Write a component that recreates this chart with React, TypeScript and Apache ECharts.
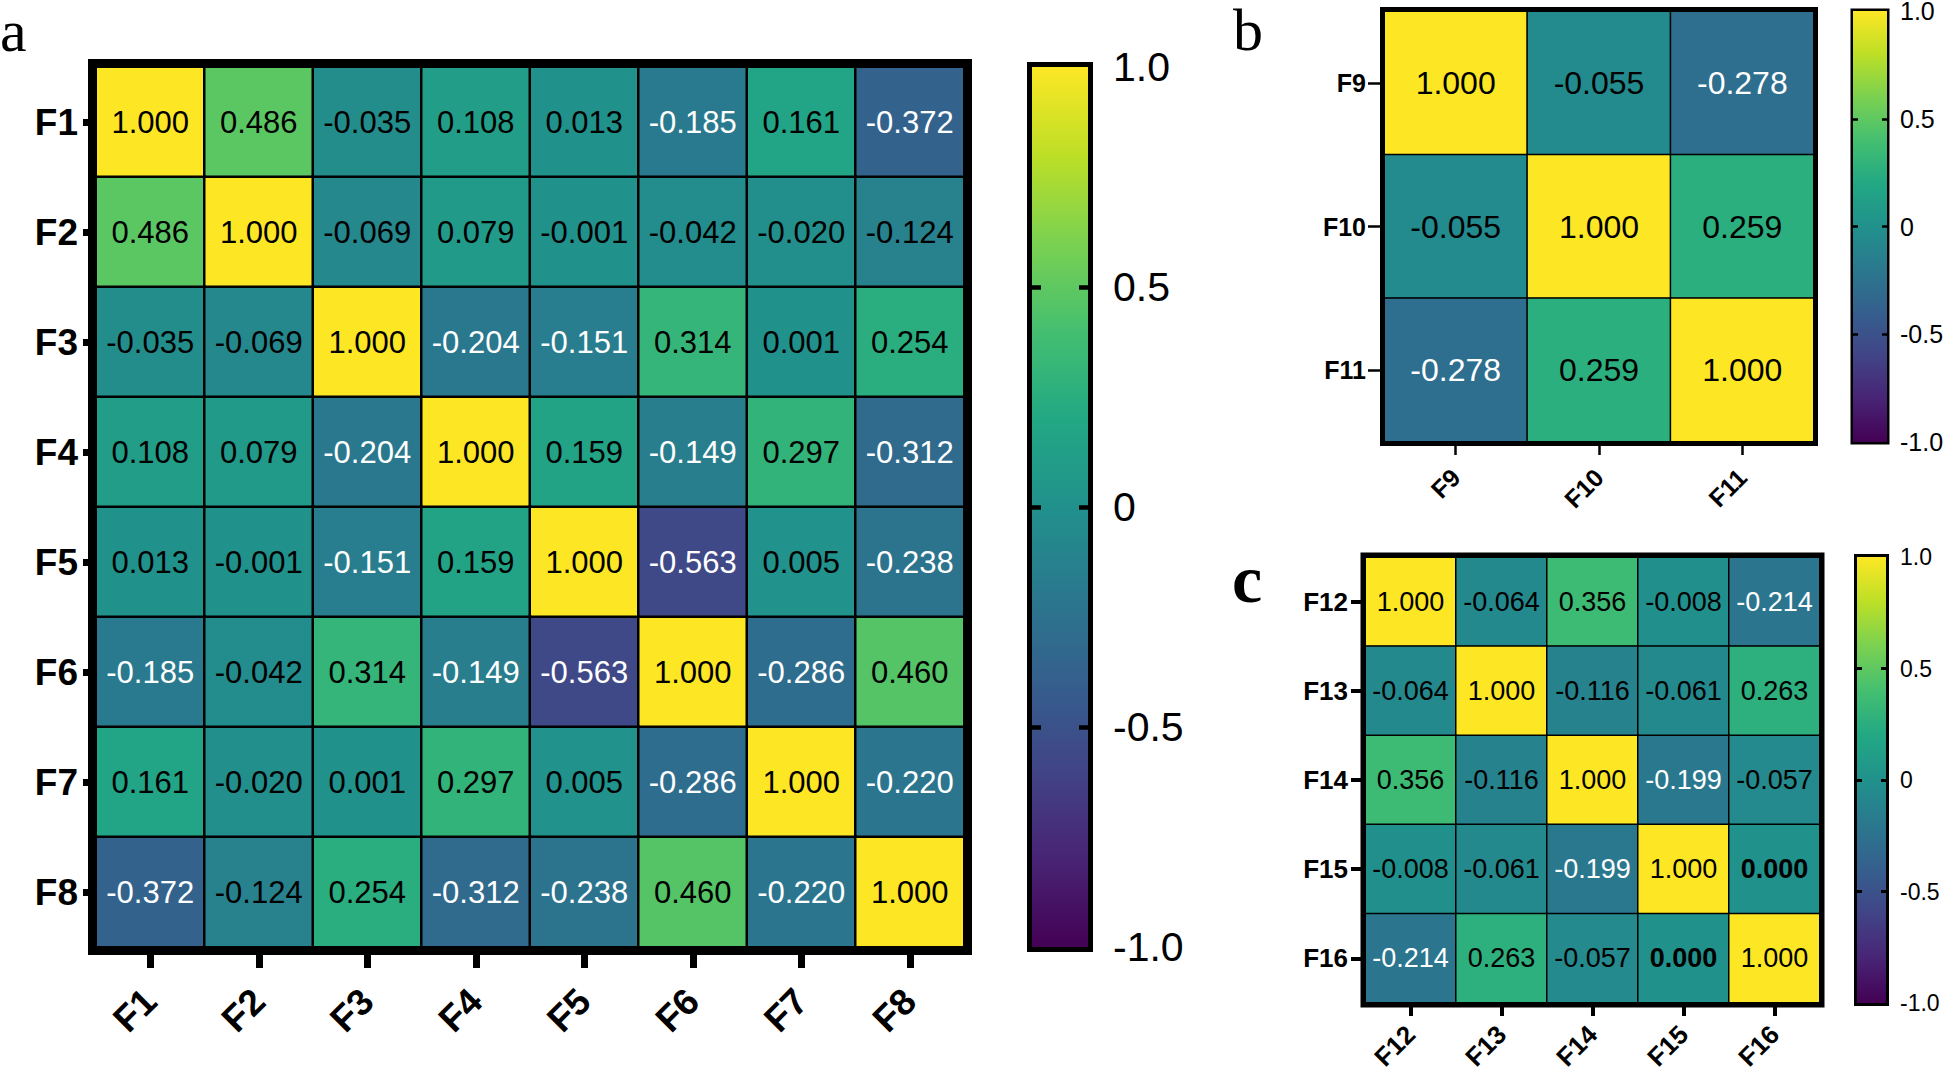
import React, { useEffect, useRef } from "react";
import * as echarts from "echarts";

// ---------- data ----------
const catsA = ["F1", "F2", "F3", "F4", "F5", "F6", "F7", "F8"];
const valuesA = [
  [1.0, 0.486, -0.035, 0.108, 0.013, -0.185, 0.161, -0.372],
  [0.486, 1.0, -0.069, 0.079, -0.001, -0.042, -0.02, -0.124],
  [-0.035, -0.069, 1.0, -0.204, -0.151, 0.314, 0.001, 0.254],
  [0.108, 0.079, -0.204, 1.0, 0.159, -0.149, 0.297, -0.312],
  [0.013, -0.001, -0.151, 0.159, 1.0, -0.563, 0.005, -0.238],
  [-0.185, -0.042, 0.314, -0.149, -0.563, 1.0, -0.286, 0.46],
  [0.161, -0.02, 0.001, 0.297, 0.005, -0.286, 1.0, -0.22],
  [-0.372, -0.124, 0.254, -0.312, -0.238, 0.46, -0.22, 1.0],
];
const catsB = ["F9", "F10", "F11"];
const valuesB = [
  [1.0, -0.055, -0.278],
  [-0.055, 1.0, 0.259],
  [-0.278, 0.259, 1.0],
];
const catsC = ["F12", "F13", "F14", "F15", "F16"];
const valuesC = [
  [1.0, -0.064, 0.356, -0.008, -0.214],
  [-0.064, 1.0, -0.116, -0.061, 0.263],
  [0.356, -0.116, 1.0, -0.199, -0.057],
  [-0.008, -0.061, -0.199, 1.0, 0.0],
  [-0.214, 0.263, -0.057, 0.0, 1.0],
];
const colorbarTicks = [-1, -0.5, 0, 0.5, 1];
const colorbarLabels = ["-1.0", "-0.5", "0", "0.5", "1.0"];
const innerTicks = [-0.5, 0, 0.5];
const viridis = [
  "#440154", "#482475", "#414487", "#355f8d", "#2a788e", "#21918c",
  "#22a884", "#44bf70", "#7ad151", "#bddf26", "#fde725",
];
const panelLetters = ["a", "b", "c"];

// ---------- layout / style ----------
const SANS = "'Liberation Sans', Arial, Helvetica, sans-serif";
const SERIF = "'Liberation Serif', 'Times New Roman', serif";

const panels = [
  {
    cats: catsA, values: valuesA,
    grid: { left: 96, top: 67, width: 868, height: 880 },
    frameW: 7, cellBorder: 2.5, cellFont: 31,
    axisFont: 37, yMargin: 18, xMargin: 48,
    yTick: { len: 13, w: 7 }, xTick: { len: 21, w: 7 },
    cb: { left: 1032, top: 67, width: 56, height: 880 },
    cbFrameW: 5, cbTick: { len: 9, w: 4.5 }, cbFont: 41, cbLineHeight: 44, cbMargin: 25,
    letter: { x: 0, y: 31, size: 60, lineHeight: 40, weight: "normal" },
  },
  {
    cats: catsB, values: valuesB,
    grid: { left: 1384, top: 11, width: 430, height: 431 },
    frameW: 3, cellBorder: 1.5, cellFont: 32,
    axisFont: 25, yMargin: 18, xMargin: 31,
    yTick: { len: 16, w: 2.5 }, xTick: { len: 13, w: 2.5 },
    cb: { left: 1853, top: 11, width: 34, height: 431 },
    cbFrameW: 2.5, cbTick: { len: 5, w: 2.5 }, cbFont: 25, cbLineHeight: 18, cbMargin: 13,
    letter: { x: 1233, y: 30, size: 60, lineHeight: 40, weight: "normal" },
  },
  {
    cats: catsC, values: valuesC,
    grid: { left: 1365, top: 557, width: 455, height: 446 },
    frameW: 3.5, cellBorder: 1.5, cellFont: 27,
    axisFont: 26, yMargin: 17, xMargin: 27,
    yTick: { len: 14, w: 4 }, xTick: { len: 13, w: 4 },
    cb: { left: 1857, top: 557, width: 29, height: 446 },
    cbFrameW: 3, cbTick: { len: 5, w: 3 }, cbFont: 23, cbLineHeight: 24, cbMargin: 14,
    letter: { x: 1232, y: 579, size: 68, lineHeight: 50, weight: "bold" },
  },
];

function buildOption() {
  const grid: any[] = [];
  const xAxis: any[] = [];
  const yAxis: any[] = [];
  const series: any[] = [];
  const visualMap: any[] = [];
  const elements: any[] = [];

  panels.forEach((p, i) => {
    const gHeat = grid.length;
    grid.push({ ...p.grid, containLabel: false, outerBoundsMode: "none" });
    const gCb = grid.length;
    grid.push({ ...p.cb, containLabel: false, outerBoundsMode: "none" });

    const xHeat = xAxis.length;
    xAxis.push({
      type: "category", gridIndex: gHeat, data: p.cats,
      axisLine: { show: false },
      axisTick: { show: true, alignWithLabel: true, length: p.xTick.len, lineStyle: { color: "#000", width: p.xTick.w } },
      axisLabel: {
        interval: 0, rotate: 45, margin: p.xMargin, color: "#000",
        fontFamily: SANS, fontWeight: "bold", fontSize: p.axisFont,
      },
      splitLine: { show: false },
    });
    xAxis.push({ type: "value", gridIndex: gCb, min: 0, max: 1, show: false });

    const yHeat = yAxis.length;
    yAxis.push({
      type: "category", gridIndex: gHeat, data: p.cats, inverse: true,
      axisLine: { show: false },
      axisTick: { show: true, alignWithLabel: true, length: p.yTick.len, lineStyle: { color: "#000", width: p.yTick.w } },
      axisLabel: {
        interval: 0, margin: p.yMargin, color: "#000",
        fontFamily: SANS, fontWeight: "bold", fontSize: p.axisFont,
      },
      splitLine: { show: false },
    });
    ["left", "right"].forEach((pos) => {
      yAxis.push({
        type: "value", gridIndex: gCb, position: pos, min: -1, max: 1, interval: 0.5, z: 10,
        axisLine: { show: false },
        splitLine: { show: false },
        axisTick: {
          show: true, inside: true, length: p.cbTick.len, customValues: innerTicks,
          lineStyle: { color: "#000", width: p.cbTick.w },
        },
        axisLabel: {
          show: pos === "right", margin: p.cbMargin, color: "#000",
          fontFamily: SANS, fontSize: p.cbFont, lineHeight: p.cbLineHeight,
          formatter: (v: number) => {
            const k = colorbarTicks.findIndex((t) => Math.abs(t - v) < 1e-9);
            return k >= 0 ? colorbarLabels[k] : "";
          },
        },
      });
    });

    const data: any[] = [];
    p.values.forEach((row, r) => {
      row.forEach((v, c) => {
        data.push({
          value: [c, r, v],
          label: { color: v < -0.14 ? "#ffffff" : "#000000", fontWeight: v === 0 ? "bold" : "normal" },
        });
      });
    });
    const sIdx = series.length;
    series.push({
      type: "heatmap", xAxisIndex: xHeat, yAxisIndex: yHeat, data,
      itemStyle: { borderColor: "#000", borderWidth: p.cellBorder },
      label: {
        show: true, fontFamily: SANS, fontSize: p.cellFont,
        formatter: (prm: any) => Number(prm.value[2]).toFixed(3),
      },
      emphasis: { disabled: true },
    });
    visualMap.push({
      type: "continuous", show: false, seriesIndex: sIdx, dimension: 2,
      min: -1, max: 1, inRange: { color: viridis },
    });

    // colorbar gradient
    elements.push({
      type: "rect", z: 1, silent: true,
      shape: { x: p.cb.left, y: p.cb.top, width: p.cb.width, height: p.cb.height },
      style: {
        fill: new echarts.graphic.LinearGradient(0, 1, 0, 0,
          viridis.map((c, k) => ({ offset: k / (viridis.length - 1), color: c }))),
      },
    });
    // frames (overlap cells by 1px so no gap shows)
    const fw = p.frameW + 2;
    elements.push({
      type: "rect", z: 100, silent: true,
      shape: {
        x: p.grid.left - fw / 2 + 1, y: p.grid.top - fw / 2 + 1,
        width: p.grid.width + fw - 2, height: p.grid.height + fw - 2,
      },
      style: { fill: "none", stroke: "#000", lineWidth: fw },
    });
    const cw = p.cbFrameW;
    elements.push({
      type: "rect", z: 100, silent: true,
      shape: { x: p.cb.left - cw / 2, y: p.cb.top - cw / 2, width: p.cb.width + cw, height: p.cb.height + cw },
      style: { fill: "none", stroke: "#000", lineWidth: cw },
    });
    // panel letter
    elements.push({
      type: "text", z: 100, silent: true, x: p.letter.x, y: p.letter.y,
      style: {
        text: panelLetters[i], fill: "#000", fontFamily: SERIF,
        fontSize: p.letter.size, fontWeight: p.letter.weight, lineHeight: p.letter.lineHeight,
        textAlign: "left", textVerticalAlign: "middle",
      },
    });
  });

  return {
    animation: false,
    backgroundColor: "#ffffff",
    grid, xAxis, yAxis, series, visualMap,
    graphic: { elements },
  };
}

export default function App() {
  const ref = useRef<HTMLDivElement>(null);
  useEffect(() => {
    if (!ref.current) return;
    const chart = echarts.init(ref.current, null, { renderer: "svg" });
    chart.setOption(buildOption() as any);
    return () => chart.dispose();
  }, []);
  return (
    <div
      ref={ref}
      style={{ position: "absolute", left: 0, top: 0, width: 1944, height: 1073 }}
    />
  );
}
